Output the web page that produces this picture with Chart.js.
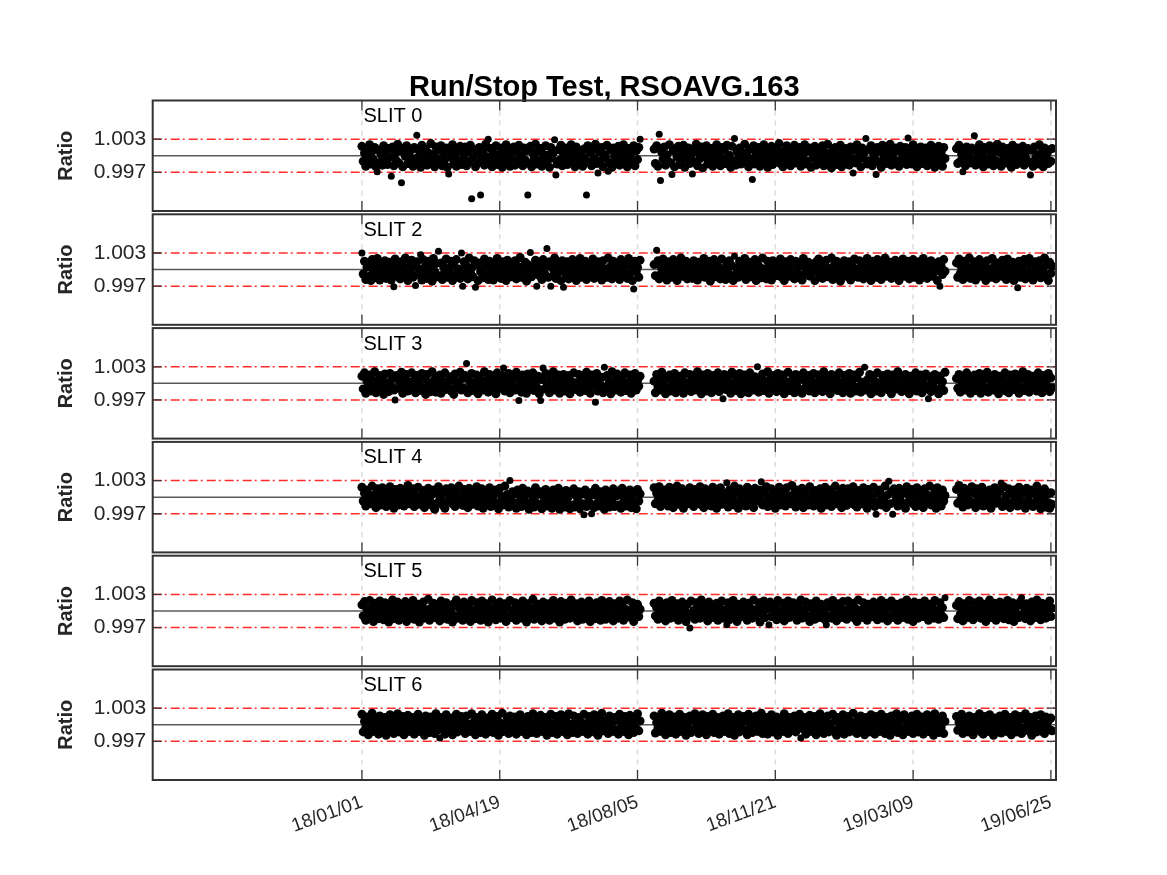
<!DOCTYPE html>
<html><head><meta charset="utf-8">
<script src="https://cdn.jsdelivr.net/npm/chart.js@4.4.1/dist/chart.umd.min.js"></script>
<style>
html,body{margin:0;padding:0;background:#fff;}
body{width:1167px;height:875px;position:relative;overflow:hidden;}
.pane{position:absolute;left:0;width:1167px;}
</style></head><body>
<script>
// ---------------- DATA ----------------
const chartTitle = 'Run/Stop Test, RSOAVG.163';
const yAxisTitle = 'Ratio';
const slitNames = ['SLIT 0', 'SLIT 2', 'SLIT 3', 'SLIT 4', 'SLIT 5', 'SLIT 6'];
// x = days since 18/01/01
const tickDays = [0, 108, 216, 324, 432, 540];
const tickLabels = ['18/01/01', '18/04/19', '18/08/05', '18/11/21', '19/03/09', '19/06/25'];
const yTickValues = [0.997, 1.003];
const upperLimit = 1.003;
const lowerLimit = 0.997;
const nominal = 1.000;
const xMin = -164, xMax = 544;
const yMin = 0.990, yMax = 1.010;

// one ratio value per day (index = days since 18/01/01), null = no measurement
const slit0 = [
1.0017,0.9990,1.0005,0.9981,1.0012,0.9996,1.0020,0.9985,1.0008,0.9993,1.0015,0.9980,0.9971,1.0010,0.9988,1.0002,0.9983,1.0018,0.9995,1.0007,
0.9984,1.0013,0.9997,0.9963,1.0016,0.9982,1.0004,0.9991,1.0021,0.9987,1.0009,0.9951,0.9980,1.0014,0.9999,1.0018,0.9986,1.0006,0.9993,1.0011,
0.9981,1.0015,0.9995,1.0037,0.9988,1.0008,0.9979,1.0019,1.0001,0.9990,1.0012,0.9983,1.0005,0.9996,1.0022,0.9985,1.0003,0.9980,1.0016,0.9994,
1.0010,0.9987,1.0018,0.9982,1.0004,0.9993,1.0014,0.9979,0.9967,1.0009,0.9997,1.0020,0.9986,1.0002,0.9981,1.0013,0.9991,1.0017,0.9984,1.0006,
0.9995,1.0016,0.9982,1.0007,0.9989,1.0019,0.9922,0.9996,1.0011,0.9980,1.0003,0.9987,1.0015,0.9929,0.9993,1.0009,0.9983,1.0021,0.9998,1.0030,
0.9986,1.0013,0.9980,1.0005,0.9995,1.0018,0.9984,1.0001,0.9991,1.0014,0.9979,1.0008,0.9998,1.0020,0.9987,1.0004,0.9981,1.0011,0.9993,1.0016,
0.9983,1.0007,0.9990,1.0019,0.9996,1.0002,0.9982,1.0014,0.9992,1.0009,0.9929,0.9986,1.0017,0.9980,1.0005,0.9997,1.0021,0.9985,1.0008,0.9991,
1.0013,0.9981,1.0003,0.9994,1.0018,0.9988,1.0001,0.9979,1.0015,0.9996,1.0006,1.0029,0.9965,0.9985,1.0011,0.9992,1.0019,0.9982,1.0003,0.9995,
1.0014,0.9984,1.0008,0.9990,1.0020,0.9997,1.0004,0.9980,1.0016,0.9993,1.0009,0.9986,1.0001,0.9981,1.0012,0.9996,0.9929,1.0018,0.9988,1.0006,
0.9982,1.0011,0.9995,1.0021,0.9986,0.9969,1.0007,0.9991,1.0015,0.9980,1.0002,0.9997,1.0019,0.9972,0.9987,1.0010,0.9979,1.0014,0.9998,1.0004,
0.9989,1.0017,0.9983,1.0008,0.9994,1.0020,0.9985,1.0001,0.9980,1.0013,0.9996,1.0005,0.9988,1.0018,0.9982,1.0009,0.9993,1.0015,1.0030,null,
null,null,null,null,null,null,null,null,null,1.0012,0.9986,1.0018,0.9981,1.0039,0.9955,1.0006,0.9994,1.0016,0.9983,1.0002,
0.9990,1.0020,0.9987,0.9966,1.0009,0.9980,1.0013,0.9997,1.0017,0.9984,1.0004,0.9993,1.0019,0.9979,1.0011,0.9996,1.0014,0.9986,1.0001,0.9967,
1.0012,0.9989,1.0021,0.9982,1.0005,0.9995,1.0016,0.9978,1.0008,0.9998,1.0018,0.9985,1.0002,0.9991,1.0013,0.9981,1.0007,0.9996,1.0020,0.9988,
1.0004,0.9982,1.0015,0.9994,1.0010,0.9986,1.0019,0.9997,1.0001,0.9979,1.0017,0.9990,1.0031,0.9983,1.0008,0.9995,1.0014,0.9985,1.0005,0.9998,
1.0021,0.9988,1.0006,0.9980,1.0012,0.9994,0.9957,1.0018,0.9985,1.0003,0.9997,1.0015,0.9981,1.0008,0.9992,1.0020,0.9987,1.0004,0.9979,1.0011,
0.9995,1.0017,0.9984,1.0005,0.9991,1.0013,0.9998,1.0022,0.9986,1.0001,0.9980,1.0009,0.9994,1.0018,0.9989,1.0003,0.9982,1.0012,0.9996,1.0019,
0.9987,1.0006,0.9993,1.0015,0.9981,1.0002,0.9995,1.0020,0.9985,1.0008,0.9990,1.0014,0.9979,1.0005,0.9997,1.0017,0.9983,1.0010,0.9994,1.0001,
0.9988,1.0018,0.9982,1.0006,0.9996,1.0021,0.9986,1.0003,0.9978,1.0012,0.9995,1.0015,0.9984,1.0002,0.9991,1.0019,0.9980,1.0008,0.9998,1.0013,
0.9990,1.0005,0.9983,1.0016,0.9995,0.9969,1.0010,0.9987,1.0020,0.9993,1.0001,0.9980,1.0014,0.9996,1.0007,1.0031,0.9985,1.0011,0.9991,1.0018,
0.9982,1.0004,0.9995,0.9966,1.0015,0.9988,1.0008,0.9979,1.0019,0.9996,1.0002,0.9986,1.0012,0.9992,1.0021,0.9983,1.0005,0.9994,1.0014,0.9987,
1.0009,0.9981,1.0017,0.9993,1.0001,0.9988,1.0015,0.9984,1.0032,0.9995,1.0006,0.9985,1.0020,0.9990,1.0003,0.9980,1.0012,0.9997,1.0016,0.9986,
1.0005,0.9992,1.0014,0.9982,1.0008,0.9996,1.0019,0.9985,1.0002,0.9979,1.0011,0.9994,1.0017,0.9988,1.0006,0.9981,1.0015,0.9995,null,null,
null,null,null,null,null,null,1.0013,0.9986,1.0019,0.9990,1.0003,0.9971,1.0009,0.9982,1.0016,0.9995,1.0001,0.9987,1.0014,0.9992,
1.0036,0.9983,1.0007,0.9996,1.0020,0.9988,1.0004,0.9980,1.0015,0.9994,1.0010,0.9985,1.0018,0.9997,1.0002,0.9982,1.0012,0.9991,1.0021,0.9986,
1.0006,0.9981,1.0016,0.9996,1.0003,0.9987,1.0013,0.9992,1.0008,0.9979,1.0019,0.9995,1.0001,0.9984,1.0014,0.9990,1.0007,0.9998,1.0017,0.9983,
1.0005,0.9993,1.0013,0.9988,0.9965,1.0010,0.9981,1.0016,0.9995,1.0002,0.9985,1.0020,0.9991,1.0007,0.9980,1.0014,0.9996,1.0004,0.9986,1.0011,
0.9990,1.0013
];
const slit2 = [
1.0030,0.9992,1.0015,0.9982,1.0004,1.0010,0.9988,0.9980,1.0018,0.9996,1.0006,0.9985,1.0020,0.9994,0.9981,1.0012,1.0001,0.9990,1.0016,0.9984,
1.0008,0.9993,1.0013,0.9981,1.0002,0.9969,1.0019,0.9989,1.0009,0.9997,0.9983,1.0014,1.0005,0.9988,1.0021,0.9994,0.9980,1.0011,0.9998,1.0017,
0.9986,1.0006,0.9971,1.0014,0.9991,1.0001,1.0027,0.9981,1.0018,0.9995,1.0008,0.9984,1.0015,0.9992,1.0003,0.9979,1.0020,0.9996,1.0011,0.9987,
1.0033,0.9989,1.0012,0.9982,1.0005,0.9997,1.0019,0.9986,1.0002,0.9993,1.0015,0.9980,1.0008,0.9990,1.0018,0.9996,1.0001,0.9984,1.0030,0.9970,
1.0014,0.9992,1.0006,0.9983,1.0021,0.9995,1.0003,0.9987,1.0016,0.9968,1.0009,0.9980,1.0012,0.9996,1.0002,0.9985,1.0019,0.9991,1.0007,0.9982,
1.0015,0.9994,1.0001,0.9981,1.0011,0.9989,1.0020,0.9997,1.0005,0.9984,1.0014,0.9992,1.0008,0.9980,1.0017,0.9995,1.0002,0.9987,1.0012,0.9996,
1.0016,0.9983,1.0006,0.9991,1.0022,0.9986,1.0003,0.9995,1.0013,0.9979,1.0009,0.9993,1.0031,0.9987,1.0005,0.9997,1.0017,0.9970,1.0010,0.9989,
1.0001,0.9982,1.0018,0.9994,1.0007,1.0038,0.9986,1.0014,0.9970,1.0003,0.9990,1.0021,0.9984,1.0009,0.9995,1.0002,0.9980,1.0016,0.9968,1.0006,
0.9992,1.0014,0.9983,1.0005,0.9996,1.0018,0.9988,1.0007,0.9980,1.0012,0.9994,1.0020,0.9986,1.0002,0.9995,1.0015,0.9982,1.0006,0.9990,1.0011,
0.9998,1.0019,0.9984,1.0003,0.9989,1.0014,0.9995,1.0009,0.9981,1.0016,0.9992,1.0001,0.9986,1.0021,0.9996,1.0006,0.9983,1.0015,0.9990,1.0004,
0.9994,1.0012,0.9982,1.0018,0.9995,1.0002,0.9988,1.0010,0.9984,1.0020,0.9993,1.0007,0.9980,0.9965,1.0015,0.9996,1.0004,0.9986,1.0017,null,
null,null,null,null,null,null,null,null,null,1.0009,0.9989,1.0035,1.0016,0.9983,1.0006,0.9995,1.0019,0.9987,1.0003,0.9981,
1.0014,0.9993,1.0007,0.9986,1.0018,0.9996,1.0001,0.9980,1.0012,0.9991,1.0021,0.9988,1.0004,0.9995,1.0015,0.9983,1.0009,0.9992,1.0002,0.9984,
1.0016,0.9995,1.0006,0.9981,1.0013,0.9989,1.0003,0.9997,1.0020,0.9986,1.0008,0.9992,1.0015,0.9979,1.0002,0.9996,1.0018,0.9987,1.0010,0.9990,
1.0004,0.9983,1.0019,0.9994,1.0001,0.9982,1.0012,0.9995,1.0016,0.9987,1.0007,0.9980,1.0024,0.9992,1.0003,0.9986,1.0015,0.9997,1.0009,0.9989,
1.0020,0.9982,1.0006,0.9994,1.0013,0.9987,1.0002,0.9996,1.0018,0.9980,1.0010,0.9991,1.0004,0.9985,1.0021,0.9995,1.0001,0.9983,1.0015,0.9992,
1.0007,0.9981,1.0016,0.9998,1.0003,0.9989,1.0012,0.9994,1.0019,0.9986,1.0006,0.9980,1.0014,0.9996,1.0002,0.9988,1.0018,0.9993,1.0009,0.9983,
1.0015,0.9995,1.0004,0.9986,1.0010,0.9981,1.0020,0.9992,1.0003,0.9997,1.0013,0.9988,1.0007,0.9994,1.0002,0.9980,1.0014,0.9998,1.0019,0.9990,
1.0005,0.9984,1.0012,0.9995,1.0017,0.9987,1.0002,0.9993,1.0021,0.9982,1.0007,0.9996,1.0015,0.9989,1.0003,0.9979,1.0010,0.9994,1.0016,0.9988,
1.0004,0.9995,1.0014,0.9981,1.0008,0.9991,1.0019,0.9998,1.0001,0.9986,1.0016,0.9994,1.0006,0.9983,1.0012,0.9989,1.0020,0.9996,1.0003,0.9980,
1.0015,0.9993,1.0007,0.9986,1.0018,0.9996,1.0002,0.9982,1.0010,0.9991,1.0021,0.9988,1.0004,0.9995,1.0013,0.9984,1.0008,0.9994,1.0017,0.9990,
1.0003,0.9980,1.0012,0.9997,1.0019,0.9988,1.0006,0.9993,1.0015,0.9983,1.0002,0.9995,1.0018,0.9986,1.0007,0.9991,1.0014,0.9981,1.0004,0.9998,
1.0020,0.9990,1.0008,0.9984,1.0003,0.9994,1.0016,0.9988,1.0011,0.9996,1.0001,0.9980,1.0014,0.9970,1.0006,0.9991,1.0018,0.9997,null,null,
null,null,null,null,null,null,1.0012,0.9986,1.0019,0.9993,1.0004,0.9982,1.0015,0.9995,1.0007,0.9989,1.0021,0.9984,1.0002,0.9994,
1.0014,0.9981,1.0006,0.9997,1.0018,0.9988,1.0003,0.9993,1.0011,0.9980,1.0016,0.9995,1.0001,0.9986,1.0020,0.9991,1.0007,0.9983,1.0012,0.9994,
1.0005,0.9988,1.0017,0.9996,1.0008,0.9982,1.0019,0.9991,1.0002,0.9995,1.0013,0.9980,1.0006,0.9993,0.9967,1.0015,0.9986,1.0003,0.9997,1.0018,
0.9983,1.0010,0.9994,1.0020,0.9988,1.0002,0.9981,1.0014,0.9996,1.0007,0.9990,1.0016,0.9985,1.0004,0.9997,1.0021,0.9987,1.0009,0.9980,1.0013,
0.9993,1.0006
];
const slit3 = [
1.0013,0.9990,1.0019,0.9982,1.0004,0.9995,1.0015,0.9986,1.0007,0.9993,1.0021,0.9983,1.0002,0.9991,1.0014,0.9997,1.0006,0.9980,1.0017,0.9992,
1.0001,0.9985,1.0018,0.9995,1.0009,0.9988,0.9970,1.0014,0.9991,1.0005,0.9998,1.0020,0.9982,1.0007,0.9994,1.0016,0.9986,1.0002,0.9996,1.0019,
0.9990,1.0006,0.9983,1.0014,0.9995,1.0003,0.9987,1.0018,0.9992,1.0009,0.9980,1.0016,0.9996,1.0001,0.9985,1.0021,0.9991,1.0007,0.9984,1.0012,
0.9994,1.0015,0.9982,1.0005,0.9998,1.0019,0.9989,1.0002,0.9995,1.0012,0.9986,1.0007,0.9980,1.0017,0.9993,1.0003,0.9996,1.0020,0.9988,1.0009,
0.9991,1.0014,1.0036,0.9983,1.0006,0.9995,1.0018,0.9987,1.0001,0.9993,1.0015,0.9981,1.0010,0.9997,1.0003,0.9988,1.0021,0.9994,1.0007,0.9984,
1.0016,0.9991,1.0004,0.9998,1.0012,0.9981,1.0019,0.9990,1.0002,0.9995,1.0014,1.0028,0.9986,1.0007,0.9993,1.0018,0.9983,1.0003,0.9996,1.0010,
0.9988,1.0020,0.9994,0.9969,1.0006,0.9984,1.0015,0.9995,1.0001,0.9982,1.0017,0.9992,1.0008,0.9997,1.0019,0.9987,1.0004,0.9993,1.0013,0.9981,
0.9969,1.0007,1.0028,0.9990,1.0018,0.9995,1.0002,0.9983,1.0012,0.9994,1.0021,0.9988,1.0005,0.9997,1.0015,0.9982,1.0003,0.9991,1.0016,0.9986,
1.0008,0.9993,1.0014,0.9981,1.0004,0.9998,1.0019,0.9989,1.0001,0.9994,1.0016,0.9984,1.0007,0.9995,1.0012,0.9987,1.0020,0.9991,1.0003,0.9982,
1.0015,0.9996,1.0006,0.9966,1.0018,0.9986,1.0002,0.9993,1.0011,0.9983,1.0029,0.9994,1.0014,0.9989,1.0004,0.9981,1.0021,0.9995,1.0007,0.9988,
1.0017,0.9991,1.0003,0.9984,1.0012,0.9996,1.0019,0.9987,1.0001,0.9994,1.0015,0.9982,1.0008,0.9993,1.0018,0.9988,1.0005,0.9995,1.0013,null,
null,null,null,null,null,null,null,null,null,1.0004,0.9983,1.0016,0.9994,1.0007,0.9988,1.0020,0.9996,1.0002,0.9981,1.0012,
0.9991,1.0015,0.9986,1.0006,0.9995,1.0018,0.9983,1.0003,0.9993,1.0013,0.9997,1.0008,0.9982,1.0019,0.9990,1.0001,0.9994,1.0016,0.9985,1.0007,
0.9995,1.0012,0.9988,1.0021,0.9993,1.0004,0.9981,1.0015,0.9996,1.0002,0.9986,1.0018,0.9991,1.0007,0.9983,1.0014,0.9994,1.0003,0.9989,1.0019,
0.9985,1.0008,0.9995,0.9972,1.0016,0.9989,1.0006,0.9993,1.0014,0.9982,1.0020,0.9996,1.0001,0.9987,1.0010,0.9992,1.0018,0.9981,1.0004,0.9994,
1.0015,0.9990,1.0007,0.9983,1.0019,0.9995,1.0002,0.9988,1.0012,0.9993,1.0030,0.9984,1.0006,0.9996,1.0017,0.9987,1.0003,0.9994,1.0021,0.9982,
1.0008,0.9992,1.0014,0.9995,1.0001,0.9985,1.0018,0.9990,1.0007,0.9997,1.0015,0.9981,1.0004,0.9993,1.0020,0.9987,1.0002,0.9994,1.0012,0.9983,
1.0016,0.9995,1.0006,0.9988,1.0010,0.9982,1.0019,0.9991,1.0003,0.9997,1.0014,0.9986,1.0007,0.9993,1.0018,0.9983,1.0001,0.9994,1.0015,0.9989,
1.0004,0.9985,1.0021,0.9995,1.0008,0.9988,1.0002,0.9981,1.0016,0.9993,1.0012,0.9997,1.0006,0.9987,1.0019,0.9991,1.0001,0.9983,1.0014,0.9994,
1.0007,0.9990,1.0018,0.9982,1.0003,0.9995,1.0015,0.9986,1.0010,0.9993,1.0020,0.9984,1.0002,0.9996,1.0029,0.9988,1.0006,0.9991,1.0016,0.9981,
1.0012,0.9994,1.0004,0.9986,1.0019,0.9995,1.0001,0.9983,1.0014,0.9991,1.0007,0.9997,1.0017,0.9988,1.0003,0.9981,1.0015,0.9993,1.0008,0.9990,
1.0021,0.9995,1.0002,0.9985,1.0009,0.9991,1.0016,0.9996,1.0006,0.9981,1.0013,0.9988,1.0003,0.9994,1.0019,0.9986,1.0007,0.9992,1.0015,0.9983,
1.0004,0.9996,1.0017,0.9990,0.9972,1.0012,0.9985,1.0002,0.9994,1.0016,0.9988,1.0007,0.9981,1.0013,0.9993,1.0003,0.9987,1.0020,null,null,
null,null,null,null,null,null,1.0009,0.9991,1.0016,0.9984,1.0004,0.9995,1.0013,0.9988,1.0019,0.9993,1.0002,0.9982,1.0008,0.9996,
1.0015,0.9987,1.0006,0.9993,1.0018,0.9982,1.0003,0.9995,1.0012,0.9990,1.0020,0.9984,1.0007,0.9994,1.0001,0.9988,1.0016,0.9996,1.0004,0.9981,
1.0013,0.9991,1.0008,0.9995,1.0019,0.9986,1.0002,0.9983,1.0015,0.9993,1.0006,0.9989,1.0017,0.9996,1.0003,0.9982,1.0011,0.9992,1.0021,0.9987,
1.0007,0.9995,1.0016,0.9984,1.0004,0.9991,1.0013,0.9996,1.0001,0.9986,1.0019,0.9993,1.0008,0.9983,1.0014,0.9990,1.0003,0.9995,1.0018,0.9985,
1.0010,0.9992
];
const slit4 = [
1.0018,0.9993,1.0007,0.9984,1.0013,0.9996,1.0002,0.9988,1.0020,0.9991,1.0005,0.9981,1.0015,0.9995,1.0008,0.9986,1.0017,0.9992,1.0001,0.9983,
1.0012,0.9995,1.0019,0.9989,1.0003,0.9980,1.0014,0.9994,1.0007,0.9986,1.0016,0.9997,1.0002,0.9984,1.0010,0.9991,1.0021,0.9988,1.0005,0.9995,
1.0015,0.9983,1.0004,0.9992,1.0018,0.9987,1.0001,0.9996,1.0012,0.9981,1.0007,0.9990,1.0016,0.9994,1.0003,0.9985,1.0013,0.9978,1.0008,0.9989,
1.0019,0.9995,1.0002,0.9986,1.0010,0.9980,1.0015,0.9992,1.0006,0.9997,1.0017,0.9988,1.0003,0.9983,1.0012,0.9994,1.0020,0.9990,1.0001,0.9985,
1.0014,0.9995,1.0007,0.9981,1.0016,0.9991,1.0004,0.9987,1.0011,0.9997,1.0019,0.9984,1.0002,0.9993,1.0015,0.9980,1.0006,0.9994,1.0012,0.9988,
1.0017,0.9983,1.0003,0.9995,1.0013,0.9989,1.0008,0.9979,1.0016,0.9992,1.0001,0.9986,1.0020,0.9991,1.0005,0.9982,1.0030,0.9995,1.0010,0.9988,
1.0006,0.9980,1.0013,0.9991,1.0002,0.9983,1.0016,0.9994,1.0004,0.9985,1.0011,0.9978,1.0008,0.9992,1.0001,0.9982,1.0017,0.9989,1.0005,0.9986,
1.0010,0.9979,1.0003,0.9993,1.0014,0.9984,1.0006,0.9988,1.0000,0.9980,1.0013,0.9991,1.0004,0.9985,1.0016,0.9978,1.0002,0.9994,1.0008,0.9982,
1.0012,0.9989,1.0001,0.9979,1.0007,0.9986,1.0015,0.9982,1.0003,0.9993,1.0010,0.9977,1.0005,0.9988,0.9968,1.0013,0.9983,1.0002,0.9991,1.0008,
0.9970,1.0004,0.9981,1.0016,0.9988,1.0001,0.9984,1.0010,0.9993,1.0006,0.9978,1.0013,0.9990,1.0003,0.9982,1.0009,0.9995,1.0015,0.9983,1.0002,
1.0011,0.9986,1.0004,0.9980,1.0016,0.9991,1.0001,0.9984,1.0008,0.9994,1.0013,0.9981,1.0003,0.9989,1.0010,0.9979,1.0014,0.9993,1.0006,null,
null,null,null,null,null,null,null,null,null,1.0017,0.9988,1.0007,0.9994,1.0019,0.9983,1.0003,0.9996,1.0013,0.9990,1.0006,
0.9984,1.0018,0.9993,1.0002,0.9981,1.0011,0.9995,1.0020,0.9987,1.0004,0.9991,1.0015,0.9980,1.0008,0.9996,1.0001,0.9988,1.0017,0.9994,1.0007,
0.9983,1.0014,0.9991,1.0003,0.9995,1.0019,0.9986,1.0006,0.9981,1.0015,0.9993,1.0002,0.9997,1.0010,0.9984,1.0018,0.9990,1.0004,0.9980,1.0012,
0.9994,1.0017,0.9987,1.0007,0.9996,1.0001,1.0026,0.9982,1.0013,0.9993,1.0004,0.9986,1.0020,0.9991,1.0008,0.9980,1.0015,0.9995,1.0003,0.9989,
1.0012,0.9984,1.0018,0.9994,1.0002,0.9987,1.0009,0.9981,1.0016,0.9993,1.0004,0.9997,1.0013,1.0028,0.9986,1.0007,0.9991,1.0019,0.9983,1.0001,
0.9995,1.0015,0.9989,1.0006,0.9980,1.0012,0.9994,1.0018,0.9986,1.0003,0.9997,1.0010,0.9984,1.0017,0.9992,1.0002,0.9988,1.0021,0.9991,1.0007,
0.9982,1.0013,0.9995,1.0004,0.9987,1.0016,0.9981,1.0008,0.9993,1.0001,0.9986,1.0019,0.9994,1.0006,0.9984,1.0012,0.9997,1.0003,0.9989,1.0015,
0.9980,1.0007,0.9993,1.0018,0.9986,1.0002,0.9995,1.0013,0.9983,1.0006,0.9991,1.0020,0.9988,1.0003,0.9996,1.0010,0.9981,1.0016,0.9994,1.0004,
0.9985,1.0015,0.9991,1.0007,0.9995,1.0019,0.9986,1.0001,0.9982,1.0012,0.9993,1.0004,0.9988,1.0017,0.9996,1.0008,0.9980,1.0014,0.9990,1.0003,
0.9994,1.0018,0.9983,0.9969,1.0007,0.9991,1.0013,0.9986,1.0002,0.9995,1.0020,0.9981,1.0004,1.0029,0.9988,1.0010,0.9969,1.0015,0.9992,1.0001,
0.9984,1.0016,0.9994,1.0006,0.9987,1.0012,0.9980,1.0019,0.9991,1.0003,0.9996,1.0014,0.9988,1.0007,0.9983,1.0017,0.9993,1.0002,0.9995,1.0011,
0.9981,1.0015,0.9990,1.0004,0.9994,1.0020,0.9986,1.0001,0.9992,1.0012,0.9980,1.0017,0.9995,1.0006,0.9984,1.0013,0.9993,1.0003,null,null,
null,null,null,null,null,null,1.0014,0.9989,1.0021,0.9994,1.0005,0.9982,1.0016,0.9996,1.0002,0.9986,1.0012,0.9992,1.0019,0.9988,
1.0007,0.9981,1.0015,0.9995,1.0003,0.9991,1.0018,0.9984,1.0010,0.9994,1.0001,0.9986,1.0013,0.9980,1.0006,0.9996,1.0017,0.9989,1.0004,0.9993,
1.0012,1.0025,0.9983,1.0019,0.9994,1.0002,0.9987,1.0015,0.9981,1.0007,0.9991,1.0013,0.9995,1.0003,0.9984,1.0018,0.9993,1.0006,0.9986,1.0010,
0.9980,1.0016,0.9994,1.0004,0.9987,1.0013,0.9983,1.0007,0.9992,1.0020,0.9986,1.0002,0.9979,1.0011,0.9995,1.0015,0.9982,1.0005,0.9990,0.9980,
1.0008,0.9987
];
const slit5 = [
1.0011,0.9991,1.0017,0.9983,1.0003,0.9995,1.0019,0.9987,1.0006,0.9981,1.0014,0.9994,1.0001,0.9986,1.0018,0.9992,1.0007,0.9984,1.0015,0.9996,
1.0002,0.9980,1.0012,0.9991,1.0020,0.9986,1.0004,0.9995,1.0016,0.9983,1.0008,0.9993,1.0001,0.9988,1.0017,0.9981,1.0006,0.9994,1.0013,0.9990,
1.0019,0.9985,1.0003,0.9996,1.0012,0.9980,1.0007,0.9992,1.0016,0.9987,1.0002,0.9994,1.0021,0.9983,1.0005,0.9993,1.0014,0.9988,1.0008,0.9995,
1.0001,0.9982,1.0018,0.9990,1.0006,0.9996,1.0015,0.9985,1.0010,0.9993,1.0003,0.9980,1.0013,0.9991,1.0020,0.9987,1.0007,0.9994,1.0002,0.9983,
1.0016,0.9995,1.0004,0.9988,1.0012,0.9981,1.0019,0.9993,1.0001,0.9986,1.0015,0.9994,1.0007,0.9983,1.0018,0.9991,1.0003,0.9996,1.0013,0.9980,
1.0006,0.9989,1.0020,0.9994,1.0002,0.9984,1.0010,0.9993,1.0016,0.9987,1.0004,0.9995,1.0013,0.9981,1.0007,0.9991,1.0019,0.9988,1.0001,0.9994,
1.0015,0.9983,1.0008,0.9993,1.0003,0.9987,1.0018,0.9995,1.0006,0.9980,1.0013,0.9990,1.0002,0.9994,1.0021,0.9985,1.0007,0.9991,1.0012,0.9996,
1.0004,0.9982,1.0016,0.9988,1.0007,0.9994,1.0013,0.9983,1.0002,0.9993,1.0019,0.9987,1.0006,0.9995,1.0012,0.9980,1.0017,0.9991,1.0003,0.9985,
1.0014,0.9994,1.0008,0.9987,1.0020,0.9990,1.0001,0.9996,1.0013,0.9982,1.0004,0.9993,1.0016,0.9985,1.0007,0.9994,1.0002,0.9988,1.0018,0.9981,
1.0010,0.9993,1.0003,0.9986,1.0015,0.9995,1.0006,0.9983,1.0019,0.9991,1.0001,0.9985,1.0012,0.9994,1.0017,0.9988,1.0007,0.9982,1.0013,0.9996,
1.0002,0.9987,1.0018,0.9993,1.0008,0.9983,1.0004,0.9995,1.0020,0.9989,1.0001,0.9991,1.0015,0.9981,1.0007,0.9994,1.0012,0.9990,1.0003,null,
null,null,null,null,null,null,null,null,null,1.0014,0.9991,1.0006,0.9985,1.0018,0.9995,1.0002,0.9988,1.0011,0.9982,1.0015,
0.9994,1.0004,0.9987,1.0019,0.9991,1.0007,0.9996,1.0013,0.9983,1.0003,0.9993,1.0016,0.9989,1.0006,0.9981,1.0012,0.9995,0.9969,1.0018,0.9990,
1.0001,0.9985,1.0015,0.9994,1.0007,0.9987,1.0020,0.9991,1.0003,0.9996,1.0012,0.9982,1.0016,0.9993,1.0002,0.9988,1.0008,0.9995,1.0014,0.9983,
1.0006,0.9991,1.0018,0.9987,1.0002,0.9995,0.9975,1.0015,0.9984,1.0007,0.9993,1.0019,0.9988,1.0003,0.9981,1.0012,0.9994,1.0001,0.9990,1.0016,
0.9995,1.0008,0.9983,1.0014,0.9993,1.0004,0.9987,1.0020,0.9991,1.0002,0.9996,1.0015,0.9980,1.0007,0.9994,1.0018,0.9988,1.0003,1.0010,0.9975,
1.0016,0.9990,1.0006,0.9995,1.0012,0.9984,1.0019,0.9993,1.0001,0.9987,1.0014,0.9982,1.0007,0.9994,1.0018,0.9988,1.0003,0.9996,1.0015,0.9991,
1.0004,0.9983,1.0010,0.9994,1.0020,0.9987,1.0002,0.9995,1.0016,0.9990,1.0007,0.9981,1.0013,0.9993,1.0003,0.9985,1.0018,0.9996,1.0006,0.9988,
1.0012,0.9994,1.0001,0.9984,0.9975,1.0015,0.9991,1.0007,0.9987,1.0019,0.9995,1.0003,0.9982,1.0013,0.9993,1.0005,0.9988,1.0017,0.9996,1.0002,
0.9985,1.0018,0.9991,1.0008,0.9995,1.0014,0.9987,1.0004,0.9981,1.0020,0.9993,1.0001,0.9988,1.0015,0.9994,1.0007,0.9983,1.0012,0.9996,1.0003,
0.9990,1.0016,0.9994,1.0005,0.9984,1.0010,0.9993,1.0019,0.9987,1.0002,0.9995,1.0014,0.9982,1.0007,0.9991,1.0018,0.9988,1.0001,0.9996,1.0012,
0.9983,1.0004,0.9994,1.0015,0.9988,1.0007,0.9995,1.0020,0.9985,1.0003,0.9991,1.0012,0.9981,1.0016,0.9993,1.0002,0.9987,1.0014,0.9996,1.0006,
0.9990,1.0018,0.9994,1.0003,0.9983,1.0012,0.9995,1.0007,0.9987,1.0019,0.9991,1.0001,0.9985,1.0015,0.9993,1.0006,0.9988,1.0024,null,null,
null,null,null,null,null,null,1.0010,0.9986,1.0017,0.9994,1.0003,0.9982,1.0013,0.9993,1.0007,0.9988,1.0019,0.9995,1.0002,0.9984,
1.0015,0.9991,1.0006,0.9996,1.0018,0.9987,1.0001,0.9994,1.0012,0.9981,1.0008,0.9993,1.0020,0.9988,1.0003,0.9995,1.0014,0.9983,1.0007,0.9991,
1.0016,0.9994,1.0002,0.9986,1.0012,0.9995,1.0019,0.9984,1.0006,0.9991,1.0015,0.9981,1.0003,0.9993,1.0010,0.9988,1.0017,1.0024,0.9994,1.0007,
0.9986,1.0013,0.9993,1.0004,0.9982,1.0016,0.9995,1.0008,0.9988,1.0020,0.9991,1.0002,0.9984,1.0014,0.9994,1.0006,0.9987,1.0012,0.9996,1.0018,
0.9990,1.0005
];
const slit6 = [
1.0019,0.9987,1.0006,0.9995,1.0014,0.9982,1.0003,0.9991,1.0021,0.9988,1.0008,0.9994,1.0002,0.9983,1.0016,0.9993,1.0005,0.9996,1.0013,0.9981,
1.0007,0.9990,1.0018,0.9994,1.0001,0.9984,1.0012,0.9995,1.0020,0.9987,1.0004,0.9992,1.0015,0.9982,1.0007,0.9994,1.0017,0.9988,1.0002,0.9996,
1.0013,0.9983,1.0006,0.9993,1.0019,0.9988,1.0003,0.9995,1.0010,0.9981,1.0016,0.9991,1.0001,0.9986,1.0014,0.9994,1.0007,0.9984,1.0020,0.9990,
1.0004,0.9976,1.0013,0.9993,1.0008,0.9983,1.0018,0.9995,1.0002,0.9988,1.0012,0.9982,1.0006,0.9994,1.0019,0.9987,1.0003,0.9991,1.0015,0.9996,
1.0007,0.9984,1.0016,0.9993,1.0001,0.9988,1.0020,0.9995,1.0006,0.9982,1.0013,0.9991,1.0003,0.9986,1.0018,0.9994,1.0008,0.9983,1.0012,0.9996,
1.0002,0.9990,1.0019,0.9986,1.0007,0.9994,1.0015,0.9981,1.0004,0.9993,1.0021,0.9988,1.0001,0.9995,1.0012,0.9984,1.0016,0.9991,1.0006,0.9996,
1.0014,0.9983,1.0003,0.9994,1.0018,0.9988,1.0008,0.9993,1.0002,0.9982,1.0015,0.9995,1.0006,0.9986,1.0020,0.9991,1.0001,0.9984,1.0011,0.9994,
1.0017,0.9988,1.0004,0.9996,1.0013,0.9981,1.0007,0.9992,1.0019,0.9986,1.0002,0.9994,1.0015,0.9983,1.0006,0.9993,1.0018,0.9988,1.0003,0.9995,
1.0012,0.9982,1.0020,0.9991,1.0001,0.9986,1.0016,0.9995,1.0007,0.9984,1.0013,0.9993,1.0004,0.9988,1.0019,0.9994,1.0002,0.9983,1.0015,0.9991,
1.0006,0.9996,1.0018,0.9986,1.0003,0.9981,1.0012,0.9994,1.0021,0.9989,1.0007,0.9993,1.0001,0.9984,1.0016,0.9995,1.0004,0.9988,1.0013,0.9991,
1.0008,0.9983,1.0019,0.9994,1.0002,0.9988,1.0015,0.9995,1.0006,0.9982,1.0017,0.9991,1.0003,0.9986,1.0012,0.9993,1.0020,0.9989,1.0007,null,
null,null,null,null,null,null,null,null,null,1.0016,0.9985,1.0004,0.9994,1.0013,0.9988,1.0021,0.9993,1.0002,0.9982,1.0010,
0.9995,1.0018,0.9986,1.0006,0.9992,1.0014,0.9983,1.0003,0.9994,1.0019,0.9988,1.0007,0.9996,1.0013,0.9981,1.0004,0.9993,1.0016,0.9986,1.0008,
0.9991,1.0020,0.9995,1.0001,0.9984,1.0012,0.9993,1.0018,0.9988,1.0006,0.9982,1.0015,0.9994,1.0003,0.9990,1.0019,0.9986,1.0007,0.9995,1.0013,
0.9983,1.0004,0.9993,1.0016,0.9988,1.0008,0.9994,1.0020,0.9984,1.0002,0.9991,1.0013,0.9981,1.0006,0.9995,1.0018,0.9987,1.0003,0.9993,1.0015,
0.9990,1.0007,0.9982,1.0019,0.9994,1.0001,0.9986,1.0012,0.9995,1.0016,0.9988,1.0004,0.9992,1.0021,0.9984,1.0008,0.9994,1.0013,0.9983,1.0003,
0.9993,1.0018,0.9987,1.0006,0.9996,1.0014,0.9981,1.0010,0.9992,1.0002,0.9988,1.0020,0.9994,1.0007,0.9984,1.0013,0.9995,1.0003,0.9990,1.0016,
0.9987,1.0008,0.9994,1.0019,0.9976,1.0001,0.9992,1.0013,0.9983,1.0006,0.9995,1.0017,0.9988,1.0003,0.9993,1.0015,0.9982,1.0007,0.9994,1.0020,
0.9990,1.0004,0.9984,1.0012,0.9995,1.0016,0.9987,1.0002,0.9993,1.0019,0.9988,1.0007,0.9981,1.0013,0.9994,1.0003,0.9991,1.0018,0.9983,1.0008,
0.9995,1.0015,0.9987,1.0006,0.9993,1.0021,0.9988,1.0001,0.9984,1.0012,0.9994,1.0016,0.9991,1.0004,0.9982,1.0013,0.9996,1.0007,0.9987,1.0018,
0.9993,1.0003,0.9983,1.0015,0.9995,1.0008,0.9988,1.0019,0.9991,1.0002,0.9984,1.0013,0.9994,1.0006,0.9981,1.0016,0.9990,1.0004,0.9995,1.0020,
0.9986,1.0007,0.9993,1.0013,0.9982,1.0018,0.9994,1.0001,0.9988,1.0010,0.9995,1.0016,0.9984,1.0004,0.9991,1.0019,0.9987,1.0006,0.9996,1.0014,
0.9983,1.0003,0.9994,1.0018,0.9988,1.0007,0.9993,1.0013,0.9981,1.0020,0.9991,1.0002,0.9986,1.0012,0.9995,1.0016,0.9984,1.0006,null,null,
null,null,null,null,null,null,1.0015,0.9990,1.0004,0.9995,1.0019,0.9984,1.0008,0.9993,1.0001,0.9987,1.0016,0.9994,1.0007,0.9982,
1.0013,0.9991,1.0003,0.9995,1.0020,0.9987,1.0006,0.9983,1.0015,0.9993,1.0002,0.9988,1.0018,0.9994,1.0008,0.9981,1.0012,0.9996,1.0004,0.9990,
1.0016,0.9985,1.0007,0.9994,1.0019,0.9988,1.0001,0.9993,1.0013,0.9982,1.0006,0.9995,1.0018,0.9987,1.0003,0.9991,1.0015,0.9984,1.0010,0.9994,
1.0020,0.9990,1.0004,0.9995,1.0013,0.9981,1.0008,0.9993,1.0016,0.9987,1.0002,0.9994,1.0018,0.9988,1.0006,0.9984,1.0014,0.9996,1.0007,0.9991,
1.0012,0.9989
];
const slitValues = [slit0, slit2, slit3, slit4, slit5, slit6];

// ---------------- LAYOUT / STYLE ----------------
const FONT = "'Liberation Sans', Arial, Helvetica, sans-serif";
Chart.defaults.font.family = FONT;
const W = 1167, H = 875;
const AREA_LEFT = 152.7, AREA_RIGHT = 1056;
const panelTops = [100.5, 214.3, 328.1, 441.9, 555.7, 669.5];
const PANEL_H = 110.5;
const XLABEL_H = 95;
const MARGIN = 22;
// marker size: dense band points drawn slightly larger so overlapping dots merge like the original
const BAND_RADIUS = 4.5, ISOLATED_RADIUS = 3.5, ISOLATED_DEV = 0.0022;

const framePlugin = {
  id: 'frame',
  beforeDatasetsDraw(chart) {
    const {ctx, chartArea: a, scales: {x}} = chart;
    ctx.save();
    ctx.strokeStyle = 'rgba(0,0,0,0.14)';
    ctx.lineWidth = 1.5;
    ctx.setLineDash([5, 5]);
    x.ticks.forEach(t => {
      const px = x.getPixelForValue(t.value);
      ctx.beginPath(); ctx.moveTo(px, a.top); ctx.lineTo(px, a.bottom); ctx.stroke();
    });
    ctx.restore();
  },
  afterDatasetsDraw(chart, args, opts) {
    const {ctx, chartArea: a, scales: {x, y}} = chart;
    ctx.save();
    ctx.strokeStyle = '#3a3a3a';
    ctx.lineWidth = 1.3;
    x.ticks.forEach(t => {
      const px = x.getPixelForValue(t.value);
      ctx.beginPath();
      ctx.moveTo(px, a.top); ctx.lineTo(px, a.top + 10);
      ctx.moveTo(px, a.bottom); ctx.lineTo(px, a.bottom - 10);
      ctx.stroke();
    });
    y.ticks.forEach(t => {
      const py = y.getPixelForValue(t.value);
      ctx.beginPath();
      ctx.moveTo(a.left, py); ctx.lineTo(a.left + 9, py);
      ctx.moveTo(a.right, py); ctx.lineTo(a.right - 9, py);
      ctx.stroke();
    });
    ctx.lineWidth = 2;
    ctx.strokeStyle = '#333';
    ctx.strokeRect(a.left, a.top, a.right - a.left, a.bottom - a.top);
    if (opts.label) {
      ctx.fillStyle = '#000';
      ctx.font = '20px ' + FONT;
      ctx.textBaseline = 'alphabetic';
      ctx.textAlign = 'left';
      ctx.fillText(opts.label, x.getPixelForValue(0) + 1.5, a.top + 21.5);
    }
    ctx.restore();
  }
};

const markerRadius = c => (c.raw && Math.abs(c.raw.y - nominal) > ISOLATED_DEV) ? ISOLATED_RADIUS : BAND_RADIUS;

slitValues.forEach((vals, k) => {
  const first = k === 0, last = k === slitValues.length - 1;
  let top, padTop, height, areaOffset;
  if (first) {
    top = 66; padTop = 0;
    areaOffset = panelTops[0] - top;           // title box fills this
    height = Math.ceil(areaOffset + PANEL_H + MARGIN);
  } else {
    top = Math.floor(panelTops[k]) - MARGIN;
    padTop = panelTops[k] - top;
    areaOffset = padTop;
    height = last ? (H - top) : Math.ceil(padTop + PANEL_H + MARGIN);
  }
  const padBottom = height - areaOffset - PANEL_H - (last ? XLABEL_H : 0);

  const div = document.createElement('div');
  div.className = 'pane';
  div.style.top = top + 'px';
  div.style.height = height + 'px';
  const cv = document.createElement('canvas');
  cv.width = W; cv.height = height;
  cv.style.width = W + 'px'; cv.style.height = height + 'px';
  div.appendChild(cv);
  document.body.appendChild(div);

  const points = [];
  vals.forEach((v, i) => { if (v !== null) points.push({x: i, y: v}); });

  new Chart(cv.getContext('2d'), {
    type: 'scatter',
    data: {
      datasets: [
        {data: points, backgroundColor: '#000', borderColor: '#000', pointRadius: markerRadius, pointBorderWidth: 0, pointHoverRadius: markerRadius},
        {type: 'line', data: [{x: xMin, y: nominal}, {x: xMax, y: nominal}], borderColor: '#5a5a5a', borderWidth: 1.5, pointRadius: 0, fill: false},
        {type: 'line', data: [{x: xMin, y: upperLimit}, {x: xMax, y: upperLimit}], borderColor: 'rgba(255,20,20,0.9)', borderWidth: 1.5, borderDash: [9, 3, 2, 4], pointRadius: 0, fill: false},
        {type: 'line', data: [{x: xMin, y: lowerLimit}, {x: xMax, y: lowerLimit}], borderColor: 'rgba(255,20,20,0.9)', borderWidth: 1.5, borderDash: [9, 3, 2, 4], pointRadius: 0, fill: false}
      ]
    },
    options: {
      responsive: false,
      animation: false,
      events: [],
      layout: {padding: {top: padTop, bottom: padBottom, left: 0, right: W - AREA_RIGHT}},
      plugins: {
        legend: {display: false},
        tooltip: {enabled: false},
        title: {
          display: first, text: chartTitle, fullSize: false, color: '#000',
          font: {size: 29, weight: 'bold', lineHeight: 0.75},
          padding: {top: 11.6, bottom: 1.15}
        },
        frame: {label: slitNames[k]}
      },
      scales: {
        x: {
          type: 'linear', min: xMin, max: xMax,
          grid: {display: false, drawTicks: false},
          border: {display: false},
          afterBuildTicks: s => { s.ticks = tickDays.map(v => ({value: v})); },
          afterFit: s => { s.height = last ? XLABEL_H : 0; },
          ticks: {
            display: last, autoSkip: false, minRotation: 20, maxRotation: 20,
            padding: 11, color: '#262626', font: {size: 19},
            callback: v => tickLabels[tickDays.indexOf(v)]
          }
        },
        y: {
          min: yMin, max: yMax,
          grid: {display: false, drawTicks: false},
          border: {display: false},
          afterBuildTicks: s => { s.ticks = yTickValues.map(v => ({value: v})); },
          afterFit: s => { s.width = AREA_LEFT; },
          ticks: {padding: 6.5, color: '#262626', font: {size: 21}, callback: v => v.toFixed(3)},
          title: {display: true, text: yAxisTitle, color: '#262626', font: {size: 20, weight: 'bold'}, padding: {top: 54.7, bottom: 0}}
        }
      }
    },
    plugins: [framePlugin]
  });
});
</script>
</body></html>
